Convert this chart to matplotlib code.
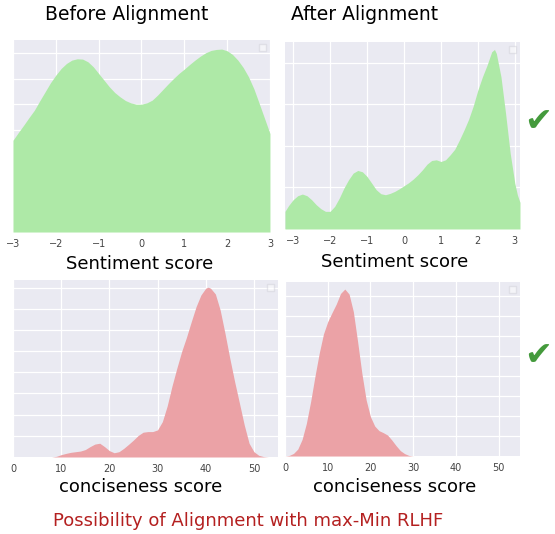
import matplotlib
matplotlib.use("Agg")
import matplotlib.pyplot as plt

# Sentiment score density, before alignment
sent_before_x = [-3, -2.875, -2.75, -2.625, -2.5, -2.375, -2.25, -2.125, -2, -1.875, -1.75, -1.625,
                 -1.5, -1.375, -1.25, -1.125, -1, -0.875, -0.75, -0.625, -0.5, -0.375, -0.25, -0.125,
                 0, 0.125, 0.25, 0.375, 0.5, 0.625, 0.75, 0.875, 1, 1.125, 1.25, 1.375,
                 1.5, 1.625, 1.75, 1.875, 2, 2.125, 2.25, 2.375, 2.5, 2.625, 2.75, 2.875, 3]
sent_before_y = [0.1797, 0.1948, 0.2092, 0.2242, 0.2386, 0.2569, 0.2745, 0.2922, 0.3072, 0.3203, 0.3301, 0.3366,
                 0.3392, 0.3386, 0.3333, 0.3235, 0.3105, 0.2974, 0.2843, 0.2732, 0.2647, 0.2575, 0.2529, 0.2503,
                 0.2503, 0.2529, 0.2582, 0.2680, 0.2791, 0.2902, 0.3007, 0.3105, 0.3190, 0.3281, 0.3366, 0.3444,
                 0.3510, 0.3556, 0.3575, 0.3582, 0.3549, 0.3477, 0.3366, 0.3222, 0.3039, 0.2804, 0.2516, 0.2222,
                 0.1928]

# Sentiment score density, after alignment
sent_after_x = [-3.22, -3.125, -3, -2.875, -2.75, -2.625, -2.5, -2.375, -2.25, -2.125, -2, -1.875,
                -1.75, -1.625, -1.5, -1.375, -1.25, -1.125, -1, -0.875, -0.75, -0.625, -0.5, -0.375,
                -0.25, -0.125, 0, 0.125, 0.25, 0.375, 0.5, 0.625, 0.75, 0.875, 1, 1.125,
                1.25, 1.375, 1.5, 1.625, 1.75, 1.875, 2, 2.125, 2.25, 2.375, 2.45, 2.5,
                2.625, 2.75, 2.875, 3, 3.07, 3.14]
sent_after_y = [0.0424, 0.0560, 0.0704, 0.0800, 0.0840, 0.0800, 0.0704, 0.0584, 0.0488, 0.0424, 0.0424, 0.0544,
                0.0744, 0.0984, 0.1184, 0.1344, 0.1408, 0.1376, 0.1264, 0.1104, 0.0944, 0.0848, 0.0824, 0.0856,
                0.0904, 0.0968, 0.1040, 0.1112, 0.1200, 0.1304, 0.1424, 0.1560, 0.1648, 0.1664, 0.1624, 0.1664,
                0.1784, 0.1920, 0.2140, 0.2380, 0.2640, 0.2960, 0.3344, 0.3664, 0.3944, 0.4264, 0.4320, 0.4224,
                0.3664, 0.2784, 0.1824, 0.1100, 0.0820, 0.0640]

# Conciseness score density, before alignment
conc_before_x = [8, 9, 10, 11, 12, 13, 14, 15, 16, 17, 18, 19, 20, 21, 22, 23, 24, 25, 26, 27, 28, 29, 30,
                 31, 32, 33, 34, 35, 36, 37, 38, 39, 40, 40.5, 41, 42, 43, 44, 45, 46, 47, 48, 49, 50,
                 51, 52, 53]
conc_before_y = [0.0, 0.0003, 0.0011, 0.0017, 0.0022, 0.0025, 0.0028, 0.0035, 0.0049, 0.0061, 0.0065, 0.0049,
                 0.0030, 0.0020, 0.0025, 0.0041, 0.0060, 0.0080, 0.0102, 0.0117, 0.0120, 0.0120, 0.0128,
                 0.0167, 0.0241, 0.0335, 0.0419, 0.0498, 0.0565, 0.0639, 0.0710, 0.0765, 0.0797, 0.0802,
                 0.0797, 0.0770, 0.0694, 0.0584, 0.0466, 0.0356, 0.0254, 0.0151, 0.0065, 0.0025,
                 0.0008, 0.0002, 0.0]

# Conciseness score density, after alignment
conc_after_x = [0, 1, 2, 3, 4, 5, 6, 7, 8, 9, 10, 11, 12, 13, 14, 15, 16, 17, 18, 19, 20,
                21, 22, 23, 24, 25, 26, 27, 28, 29, 30]
conc_after_y = [0.0, 0.0003, 0.0013, 0.0035, 0.0083, 0.0163, 0.0272, 0.0397, 0.0513, 0.0610, 0.0672,
                0.0717, 0.0760, 0.0813, 0.0835, 0.0810, 0.0722, 0.0572, 0.0413, 0.0280, 0.0197,
                0.0150, 0.0127, 0.0117, 0.0105, 0.0080, 0.0052, 0.0027, 0.0012, 0.0003, 0.0]

sent_ticks = [-3, -2, -1, 0, 1, 2, 3]
conc_ticks = [0, 10, 20, 30, 40, 50]

green = "#aee9a7"
red = "#eba2a6"

fig = plt.figure(figsize=(5.55, 5.34), dpi=100)


def panel(rect, x, y, color, xlim, ylim, xticks, ystep):
    ax = fig.add_axes(rect)
    ax.set_facecolor("#eaeaf2")
    ax.fill_between(x, y, 0, color=color, lw=0, zorder=2)
    ax.set_xlim(*xlim)
    ax.set_ylim(*ylim)
    ax.set_xticks(xticks)
    yt = []
    v = ystep
    while v < ylim[1]:
        yt.append(v)
        v += ystep
    ax.set_yticks(yt)
    ax.set_yticklabels([])
    ax.grid(color="white", lw=0.9, zorder=0)
    ax.set_axisbelow(True)
    ax.tick_params(length=0, labelsize=7, labelcolor="#444444", pad=5)
    for s in ax.spines.values():
        s.set_visible(False)
    # empty legend box, as in the original seaborn output
    ax.legend(handles=[], loc="upper right", fontsize=5, borderpad=0.5,
              framealpha=0.5, edgecolor="#d0d0d8", fancybox=False, borderaxespad=0.6)
    return ax


panel([0.0234, 0.5655, 0.463, 0.3596], sent_before_x, sent_before_y, green,
      (-3, 3), (0, 0.376), sent_ticks, 0.05)
panel([0.5135, 0.5712, 0.4234, 0.3502], sent_after_x, sent_after_y, green,
      (-3.22, 3.14), (0, 0.45), sent_ticks, 0.1)
panel([0.0234, 0.1442, 0.4775, 0.3315], conc_before_x, conc_before_y, red,
      (0, 55), (0, 0.0836), conc_ticks, 0.01)
panel([0.5135, 0.146, 0.4234, 0.3258], conc_after_x, conc_after_y, red,
      (0, 55), (0, 0.087), conc_ticks, 0.01)


# Titles and labels (figure pixel coords)
def txt(xp, yp, s, **kw):
    fig.text(xp / 555, 1 - yp / 534, s, ha="center", va="center", **kw)


txt(127, 14, "Before Alignment", fontsize=13.5)
txt(365, 14, "After Alignment", fontsize=13.5)
txt(140, 264, "Sentiment score", fontsize=13)
txt(395, 262, "Sentiment score", fontsize=13)
txt(141, 487, "conciseness score", fontsize=13)
txt(395, 487, "conciseness score", fontsize=13)
txt(248, 521, "Possibility of Alignment with max-Min RLHF", fontsize=13, color="#b42020")
txt(538, 122, "\u2714", fontsize=24, color="#449a3c")
txt(538, 356, "\u2714", fontsize=24, color="#449a3c")

fig.savefig("out.png", dpi=100)
